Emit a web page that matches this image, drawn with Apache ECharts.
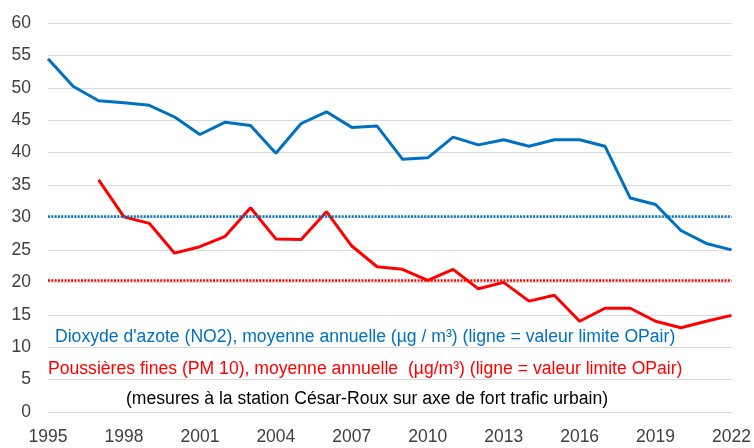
<!DOCTYPE html>
<html>
<head>
<meta charset="utf-8">
<script src="https://cdn.jsdelivr.net/npm/echarts@6/dist/echarts.min.js"></script>
<style>html,body{margin:0;padding:0;background:#fff;}#c{width:754px;height:448px;}</style>
</head>
<body>
<div id="c"></div>
<script>
const years = ["1995","1996","1997","1998","1999","2000","2001","2002","2003","2004","2005","2006","2007","2008","2009","2010","2011","2012","2013","2014","2015","2016","2017","2018","2019","2020","2021","2022"];
const no2 = [54.5,50.2,48.0,47.7,47.3,45.5,42.8,44.7,44.2,39.9,44.5,46.3,43.9,44.1,39.0,39.2,42.4,41.2,42.0,41.0,42.0,42.0,41.0,33.0,32.0,28.0,26.0,25.0];
const pm10 = [null,null,35.8,30.1,29.1,24.5,25.5,27.1,31.5,26.7,26.6,30.9,25.6,22.4,22.0,20.3,22.0,19.0,20.0,17.1,18.0,14.0,16.0,16.0,14.0,13.0,14.0,14.9];
const no2Limit = 30.2;
const pm10Limit = 20.3;
const yTicks = {min: 0, max: 60, interval: 5};
const labelNO2 = "Dioxyde d'azote (NO2), moyenne annuelle (µg / m³) (ligne = valeur limite OPair)";
const labelPM10 = "Poussières fines (PM 10), moyenne annuelle  (µg/m³) (ligne = valeur limite OPair)";
const labelNote = "(mesures à la station César-Roux sur axe de fort trafic urbain)";

const FONT = "'Liberation Sans', Arial, sans-serif";
const chart = echarts.init(document.getElementById('c'), null, {renderer: 'canvas'});
chart.setOption({
  animation: false,
  backgroundColor: '#ffffff',
  grid: {left: 48, right: 22, top: 23, bottom: 36, containLabel: false},
  xAxis: {
    type: 'category',
    data: years,
    boundaryGap: false,
    axisLine: {show: true, lineStyle: {color: '#d9d9d9', width: 1}},
    axisTick: {show: false},
    axisLabel: {interval: 2, color: '#404040', fontFamily: FONT, fontSize: 17.5, margin: 16},
    splitLine: {show: false}
  },
  yAxis: {
    type: 'value',
    min: yTicks.min, max: yTicks.max, interval: yTicks.interval,
    axisLine: {show: false},
    axisTick: {show: false},
    axisLabel: {color: '#404040', fontFamily: FONT, fontSize: 17.5, margin: 17},
    splitLine: {show: true, lineStyle: {color: '#d9d9d9', width: 1}}
  },
  series: [
    {
      name: 'NO2', type: 'line', data: no2, symbol: 'none',
      lineStyle: {color: '#0070C0', width: 3},
      itemStyle: {color: '#0070C0'},
      markLine: {
        silent: true, symbol: ['none','none'], label: {show: false},
        lineStyle: {color: '#0070C0', width: 2.5, type: [2, 1.3]},
        data: [{yAxis: no2Limit}]
      }
    },
    {
      name: 'PM10', type: 'line', data: pm10, symbol: 'none', connectNulls: false,
      lineStyle: {color: '#FF0000', width: 3},
      itemStyle: {color: '#FF0000'},
      markLine: {
        silent: true, symbol: ['none','none'], label: {show: false},
        lineStyle: {color: '#FF0000', width: 2.5, type: [2, 1.3]},
        data: [{yAxis: pm10Limit}]
      }
    }
  ],
  graphic: [
    {type: 'text', x: 55, y: 337, style: {text: labelNO2, fill: '#0070C0', font: '17.6px ' + FONT, verticalAlign: 'middle', align: 'left'}},
    {type: 'text', x: 48, y: 369, style: {text: labelPM10, fill: '#FF0000', font: '17.6px ' + FONT, verticalAlign: 'middle', align: 'left'}},
    {type: 'text', x: 126, y: 399, style: {text: labelNote, fill: '#000000', font: '17.6px ' + FONT, verticalAlign: 'middle', align: 'left'}}
  ]
});
</script>
</body>
</html>
